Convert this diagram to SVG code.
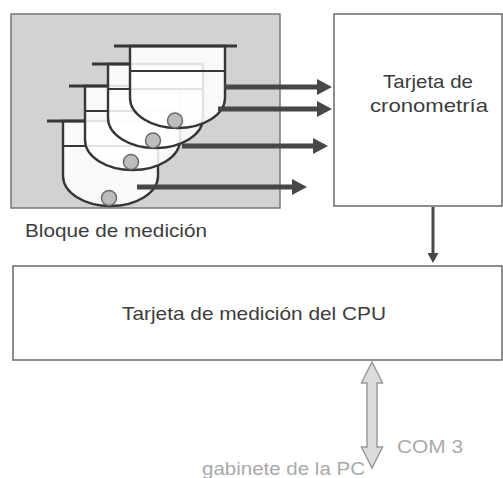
<svg xmlns="http://www.w3.org/2000/svg" width="503" height="478" viewBox="0 0 503 478">
  <style>
    .box { fill: #ffffff; stroke: #6a6a6a; stroke-width: 1.5; }
    .block { fill: #d2d2d2; stroke: #777777; stroke-width: 1.5; }
    .cup { fill: #ffffff; fill-opacity: 0.86; stroke: #363636; stroke-width: 2.4; }
    .rim { stroke: #363636; stroke-width: 2.8; fill: none; }
    .inner { stroke: #363636; stroke-width: 2.2; fill: none; }
    .ball { fill: #bdbdbd; stroke: #6a6a6a; stroke-width: 1.5; }
    .label { font-family: "Liberation Sans", Arial, sans-serif; font-size: 19px; fill: #3c3c3c; }
    .faint { font-family: "Liberation Sans", Arial, sans-serif; font-size: 18px; fill: #a9a9a9; }
    .flow { stroke: #474747; stroke-width: 5; fill: none; }
    .link { stroke: #474747; stroke-width: 3; fill: none; }
  </style>
  <defs>
    <marker id="head" markerUnits="userSpaceOnUse" markerWidth="16" markerHeight="16" refX="2" refY="8" orient="auto">
      <path d="M0,0 L15,8 L0,16 Z" fill="#474747"/>
    </marker>
    <marker id="headSmall" markerUnits="userSpaceOnUse" markerWidth="11" markerHeight="11" refX="2" refY="5.5" orient="auto">
      <path d="M0,0 L10,5.5 L0,11 Z" fill="#474747"/>
    </marker>
  </defs>

  <rect width="503" height="478" fill="#ffffff"/>

  <!-- measuring block with the stacked cups -->
  <g id="bloque-medicion">
    <rect class="block" x="11" y="14" width="269" height="194"/>
    <!-- cup 4 (lowest) -->
    <g id="cup4">
      <path class="cup" d="M63,121 V176 A47.5,30 0 0 0 158,176 V121 Z"/>
      <line class="inner" x1="63" y1="146" x2="158" y2="146"/>
      <line class="rim" x1="47" y1="121" x2="85" y2="121"/>
      <circle class="ball" cx="109" cy="198" r="7.5"/>
    </g>
    <!-- cup 3 -->
    <g id="cup3">
      <path class="cup" d="M85,86 V140 A47.5,30 0 0 0 180,140 V86 Z"/>
      <line class="inner" x1="85" y1="111" x2="180" y2="111"/>
      <line class="rim" x1="69" y1="86" x2="108" y2="86"/>
      <circle class="ball" cx="131" cy="162" r="7.5"/>
    </g>
    <!-- cup 2 -->
    <g id="cup2">
      <path class="cup" d="M108,64 V118 A47.5,30 0 0 0 203,118 V64 Z"/>
      <line class="inner" x1="108" y1="89" x2="203" y2="89"/>
      <line class="rim" x1="92" y1="64" x2="130" y2="64"/>
      <circle class="ball" cx="153" cy="140.5" r="7.5"/>
    </g>
    <!-- cup 1 (top) -->
    <g id="cup1">
      <path class="cup" d="M130,46 V98 A47.5,30 0 0 0 225,98 V46 Z"/>
      <line class="inner" x1="130" y1="71" x2="225" y2="71"/>
      <line class="rim" x1="114" y1="46" x2="237" y2="46"/>
      <circle class="ball" cx="175" cy="120.5" r="7.5"/>
    </g>
    <text class="label" x="25" y="237" textLength="182" lengthAdjust="spacingAndGlyphs">Bloque de medición</text>
  </g>

  <!-- timing card -->
  <g id="tarjeta-cronometria">
    <rect class="box" x="334" y="14" width="168" height="192"/>
    <text class="label" x="383" y="88" textLength="90" lengthAdjust="spacingAndGlyphs">Tarjeta de</text>
    <text class="label" x="370" y="112" textLength="118" lengthAdjust="spacingAndGlyphs">cronometría</text>
  </g>

  <!-- CPU measuring card -->
  <g id="tarjeta-cpu">
    <rect class="box" x="13" y="266" width="489" height="94"/>
    <text class="label" x="122" y="320" textLength="264" lengthAdjust="spacingAndGlyphs">Tarjeta de medición del CPU</text>
  </g>

  <!-- connectors -->
  <g id="connectors">
    <line class="flow" x1="224" y1="87" x2="319" y2="87" marker-end="url(#head)"/>
    <line class="flow" x1="218" y1="109" x2="319" y2="109" marker-end="url(#head)"/>
    <line class="flow" x1="182" y1="146" x2="315" y2="146" marker-end="url(#head)"/>
    <line class="flow" x1="137" y1="187" x2="294" y2="187" marker-end="url(#head)"/>
    <line class="link" x1="433" y1="207" x2="433" y2="255" marker-end="url(#headSmall)"/>
    <polygon id="com3-link" points="372,362 382.5,383 377,383 377,447 382.5,447 372,468 361.5,447 367,447 367,383 361.5,383" fill="#dcdcdc" stroke="#9a9a9a" stroke-width="1.5" stroke-linejoin="miter"/>
  </g>

  <!-- serial port labels -->
  <g id="pc-labels">
    <text class="faint" x="397" y="453" textLength="66" lengthAdjust="spacingAndGlyphs">COM 3</text>
    <text class="faint" x="202" y="475" textLength="163" lengthAdjust="spacingAndGlyphs">gabinete de la PC</text>
  </g>
</svg>
